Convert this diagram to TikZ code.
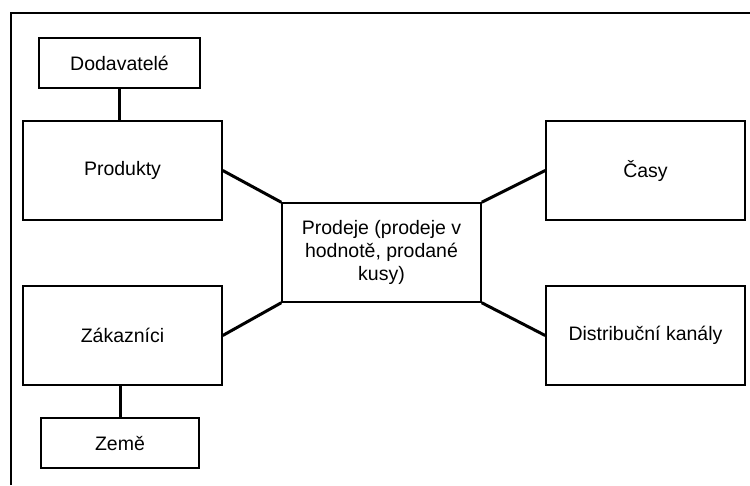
\documentclass[tikz,border=0pt]{standalone}
\usepackage{fontspec}
\setmainfont{Liberation Sans}

\tikzset{
	entity/.style={draw, line width=1.5pt, rectangle, align=center, inner sep=2pt,
		font=\fontsize{19.5}{23}\selectfont, minimum width=199pt, minimum height=99pt},
	smallentity/.style={entity, minimum height=50pt},
	link/.style={line width=3pt}
}

\begin{document}
\begin{tikzpicture}[x=1pt, y=-1pt]
	\useasboundingbox (0, 0) rectangle (750, 485);
	% Frame:
	\draw[line width=2.5pt] (11, 485) -- (11, 13) -- (750, 13);
	% Boxes:
	\node[smallentity, minimum width=161pt](Dodavatele) at (119.5, 63){Dodavatelé};
	\node[entity](Produkty) at (122.5, 170.5){Produkty};
	\node[entity](Zakaznici) at (122.5, 335.5){Zákazníci};
	\node[smallentity, minimum width=158pt](Zeme) at (120, 443){Země};
	\node[entity](Prodeje) at (381.5, 252.5){Prodeje (prodeje v\\hodnotě, prodané\\kusy)};
	\node[entity](Casy) at (645.5, 170.5){Časy};
	\node[entity](Kanaly) at (645.5, 335.5){Distribuční kanály};
	% Wires:
	\draw[link] (Dodavatele.south) -- (Dodavatele.south |- Produkty.north);
	\draw[link] (Zakaznici.south -| Zeme.north) -- (Zeme.north);
	\draw[link] (Produkty.east) -- (Prodeje.north west);
	\draw[link] (Zakaznici.east) -- (Prodeje.south west);
	\draw[link] (Casy.west) -- (Prodeje.north east);
	\draw[link] (Kanaly.west) -- (Prodeje.south east);
\end{tikzpicture}
\end{document}
